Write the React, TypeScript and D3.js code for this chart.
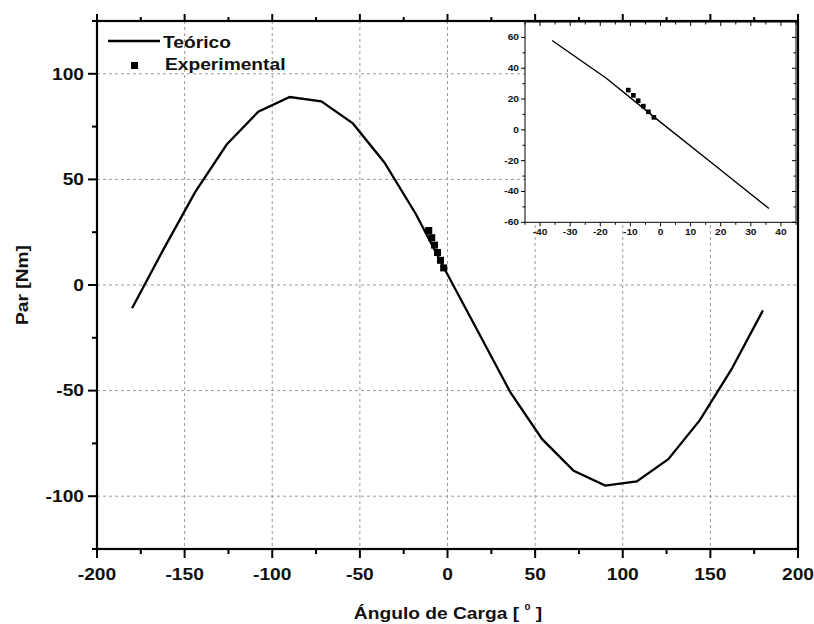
import React from "react";
import * as d3 from "d3";

// ---- data ----
const angleTheo = [-180, -162, -144, -126, -108, -90, -72, -54, -36, -18, 0, 18, 36, 54, 72, 90, 108, 126, 144, 162, 180];
const torqueTheo = [-11, 17, 44, 66.5, 82, 89, 87, 76.5, 58, 33.5, 5, -23, -51, -73, -88, -95, -93, -82.5, -64, -40, -12];
const angleExp = [-10.7, -9, -7.4, -5.7, -4, -2.2];
const torqueExp = [25.8, 22.4, 18.9, 15.4, 11.7, 8.1];
const xTicks = [-200, -150, -100, -50, 0, 50, 100, 150, 200];
const yTicks = [-100, -50, 0, 50, 100];
const insetXTicks = [-40, -30, -20, -10, 0, 10, 20, 30, 40];
const insetYTicks = [-60, -40, -20, 0, 20, 40, 60];

const FONT = "'Liberation Sans', Arial, sans-serif";
const SX = 1.2;

function T({ x, y, anchor = "start", size = 16, rotate = 0, children }: any) {
  return (
    <text
      transform={`translate(${x},${y}) rotate(${rotate}) scale(${SX},1)`}
      textAnchor={anchor}
      fontSize={size}
      fontWeight="bold"
      fontFamily={FONT}
      fill="#111"
    >
      {children}
    </text>
  );
}

export default function App() {
  const L = 97, R = 798, TOP = 21, B = 549;
  const x = d3.scaleLinear().domain([-200, 200]).range([L, R]);
  const y = d3.scaleLinear().domain([-125, 125]).range([B, TOP]);

  const theo = angleTheo.map((a, i) => [a, torqueTheo[i]] as [number, number]);
  const exp = angleExp.map((a, i) => [a, torqueExp[i]] as [number, number]);
  const line = d3.line<[number, number]>().x((d) => x(d[0])).y((d) => y(d[1]));

  const xMinor = d3.range(-175, 200, 50);
  const yMinor = d3.range(-125, 126, 50);

  // inset
  const iL = 525, iR = 796, iT = 22, iB = 222.3;
  const ix = d3.scaleLinear().domain([-45, 45]).range([iL, iR]);
  const iy = d3.scaleLinear().domain([-60, 70]).range([iB, iT]);
  const iline = d3.line<[number, number]>().x((d) => ix(d[0])).y((d) => iy(d[1]));
  const theoInset = theo.filter((d) => d[0] >= -36 && d[0] <= 36);
  const ixMinor = d3.range(-45, 46, 10);
  const iyMinor = d3.range(-50, 70, 20);

  const grid = "#9a9a9a";

  return (
    <svg width={814} height={624} style={{ position: "absolute", left: 0, top: 0, background: "#fff" }}>
      <rect x={0} y={0} width={814} height={624} fill="#fff" />
      {/* gridlines */}
      {xTicks.filter((t) => t > -200 && t < 200).map((t) => (
        <line key={"gx" + t} x1={x(t)} x2={x(t)} y1={TOP} y2={B} stroke={grid} strokeWidth={1} strokeDasharray="3,3" />
      ))}
      {yTicks.map((t) => (
        <line key={"gy" + t} x1={L} x2={R} y1={y(t)} y2={y(t)} stroke={grid} strokeWidth={1} strokeDasharray="3,3" />
      ))}

      {/* theoretical curve */}
      <path d={line(theo) || ""} fill="none" stroke="#000" strokeWidth={2.3} strokeLinejoin="miter" />
      {/* experimental */}
      {exp.map((d, i) => (
        <rect key={"e" + i} x={x(d[0]) - 3.5} y={y(d[1]) - 3.5} width={7} height={7} fill="#000" />
      ))}

      {/* frame */}
      <rect x={L} y={TOP} width={R - L} height={B - TOP} fill="none" stroke="#000" strokeWidth={2.2} />
      {/* bottom & top ticks */}
      {xTicks.map((t) => (
        <g key={"xt" + t}>
          <line x1={x(t)} x2={x(t)} y1={B} y2={B + 9} stroke="#000" strokeWidth={2} />
          <line x1={x(t)} x2={x(t)} y1={TOP} y2={TOP - 7} stroke="#000" strokeWidth={2} />
          <T x={x(t)} y={580} anchor="middle">{t}</T>
        </g>
      ))}
      {xMinor.map((t) => (
        <g key={"xm" + t}>
          <line x1={x(t)} x2={x(t)} y1={B} y2={B + 5} stroke="#000" strokeWidth={2} />
          <line x1={x(t)} x2={x(t)} y1={TOP} y2={TOP - 4} stroke="#000" strokeWidth={2} />
        </g>
      ))}
      {/* left ticks */}
      {yTicks.map((t) => (
        <g key={"yt" + t}>
          <line x1={L - 9} x2={L} y1={y(t)} y2={y(t)} stroke="#000" strokeWidth={2} />
          <T x={84} y={y(t) + 5.8} anchor="end">{t}</T>
        </g>
      ))}
      {yMinor.map((t) => (
        <line key={"ym" + t} x1={L - 5} x2={L} y1={y(t)} y2={y(t)} stroke="#000" strokeWidth={2} />
      ))}

      {/* axis titles */}
      <T x={448} y={619} anchor="middle">
        Ángulo de Carga [ <tspan fontSize={9} dy={-9}>0</tspan><tspan dy={9}> ]</tspan>
      </T>
      <T x={28} y={285} anchor="middle" rotate={-90}>Par [Nm]</T>

      {/* legend */}
      <line x1={108} x2={160} y1={41} y2={41} stroke="#000" strokeWidth={2.3} />
      <T x={163} y={47.5}>Teórico</T>
      <rect x={131} y={62} width={7} height={7} fill="#000" />
      <T x={165} y={70}>Experimental</T>

      {/* inset */}
      <rect x={iL} y={iT} width={iR - iL} height={iB - iT} fill="#fff" stroke="#000" strokeWidth={1} />
      <path d={iline(theoInset) || ""} fill="none" stroke="#000" strokeWidth={1.4} />
      {exp.map((d, i) => (
        <rect key={"ie" + i} x={ix(d[0]) - 2.3} y={iy(d[1]) - 2.3} width={4.6} height={4.6} fill="#000" />
      ))}
      {insetXTicks.map((t) => (
        <g key={"ixt" + t}>
          <line x1={ix(t)} x2={ix(t)} y1={iB} y2={iB + 4} stroke="#000" strokeWidth={1} />
          <line x1={ix(t)} x2={ix(t)} y1={iT} y2={iT + 4} stroke="#000" strokeWidth={1} />
          <T x={ix(t)} y={iB + 13} anchor="middle" size={8.5}>{t}</T>
        </g>
      ))}
      {ixMinor.map((t) => (
        <g key={"ixm" + t}>
          <line x1={ix(t)} x2={ix(t)} y1={iB} y2={iB + 2.5} stroke="#000" strokeWidth={1} />
          <line x1={ix(t)} x2={ix(t)} y1={iT} y2={iT + 2.5} stroke="#000" strokeWidth={1} />
        </g>
      ))}
      {insetYTicks.map((t) => (
        <g key={"iyt" + t}>
          <line x1={iL - 4} x2={iL} y1={iy(t)} y2={iy(t)} stroke="#000" strokeWidth={1} />
          <line x1={iR - 4} x2={iR} y1={iy(t)} y2={iy(t)} stroke="#000" strokeWidth={1} />
          <T x={iL - 6} y={iy(t) + 3} anchor="end" size={8.5}>{t}</T>
        </g>
      ))}
      {iyMinor.map((t) => (
        <g key={"iym" + t}>
          <line x1={iL - 2.5} x2={iL} y1={iy(t)} y2={iy(t)} stroke="#000" strokeWidth={1} />
          <line x1={iR - 2.5} x2={iR} y1={iy(t)} y2={iy(t)} stroke="#000" strokeWidth={1} />
        </g>
      ))}
    </svg>
  );
}
